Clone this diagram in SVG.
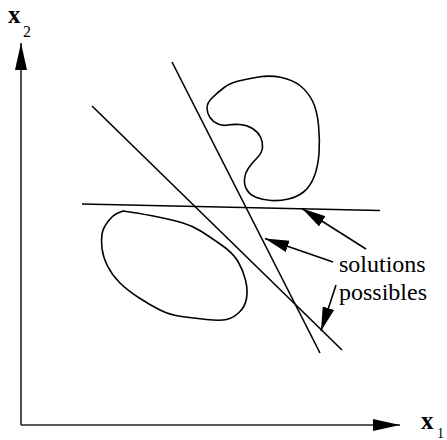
<svg xmlns="http://www.w3.org/2000/svg" width="447" height="440" viewBox="0 0 447 440">
<style>
.ln{stroke:#000;stroke-width:1.6;fill:none}
.ax{stroke:#222;stroke-width:1.6;fill:none}
.ar{stroke:#000;stroke-width:1.6;fill:none;marker-end:url(#ah)}
.blob{stroke:#000;stroke-width:1.6;fill:none;stroke-linejoin:round}
.lbl{font-family:"Liberation Serif","Times New Roman",serif;fill:#000}
.var{font-family:"Liberation Serif","Times New Roman",serif;fill:#000;font-weight:bold}
</style>
<defs>
<marker id="ah" markerUnits="userSpaceOnUse" markerWidth="26" markerHeight="14" refX="24" refY="6" orient="auto">
<path d="M0,0 L24,6 L0,12 Z" fill="#000"/>
</marker>
<marker id="axh" markerUnits="userSpaceOnUse" markerWidth="28" markerHeight="14" refX="27" refY="6" orient="auto">
<path d="M0,0 L27,6 L0,12 Z" fill="#000"/>
</marker>
</defs>
<g id="axes">
<line class="ax" x1="21" y1="425" x2="21" y2="43" marker-end="url(#axh)"/>
<line class="ax" x1="21" y1="425" x2="400" y2="425" marker-end="url(#axh)"/>
</g>
<g id="label-x2">
<text class="var" x="8" y="23" font-size="25">x</text>
<text class="lbl" x="23" y="37" font-size="16">2</text>
</g>
<g id="label-x1">
<text class="var" x="421" y="429" font-size="25">x</text>
<text class="lbl" x="437" y="438" font-size="14">1</text>
</g>
<g id="region-top">
<path class="blob" d="M212,98 Q207,103 207,108 Q207,113 210,117.5 Q213,122 218,124 Q223,126 228,125 Q233,124 240,124.5 Q247,125 252.5,128.5 Q258,132 260.5,137 Q263,142 262.5,147.5 Q262,153 257,158 Q252,163 248.5,168 Q245,173 244.5,179 Q244,185 247,190 Q250,195 256.5,197.5 Q263,200 271.5,200.5 Q280,201 288.5,199 Q297,197 303.5,192 Q310,187 314,177 Q318,167 319,153.5 Q320,140 318.5,125 Q317,110 312.5,101 Q308,92 300.5,86 Q293,80 281.5,77.5 Q270,75 258.5,77 Q247,79 238.5,81 Q230,83 223.5,88 Q217,93 212,98 Z"/>
</g>
<g id="region-bottom">
<path class="blob" d="M123,211 L133,212.5 Q143,214 158,217 Q173,220 183,223 Q193,226 201.5,231.5 Q210,237 221.5,245 Q233,253 238,261.5 Q243,270 245.5,280 Q248,290 246.5,298.5 Q245,307 239,312.5 Q233,318 226.5,319.5 Q220,321 206.5,319.5 Q193,318 181.5,316.5 Q170,315 160,310 Q150,305 138.5,297.5 Q127,290 119.5,282.5 Q112,275 107.5,266 Q103,257 102,248.5 Q101,240 102,234 Q103,228 108,221.5 Q113,215 118,213 Z"/>
</g>
<g id="lines">
<line class="ln" x1="172" y1="62" x2="320" y2="353"/>
<line class="ln" x1="92" y1="106" x2="342" y2="350"/>
<line class="ln" x1="82" y1="204" x2="380" y2="210.5"/>
</g>
<g id="label-solutions">
<text class="lbl" x="339" y="272" font-size="24">solutions</text>
<text class="lbl" x="339" y="300" font-size="24">possibles</text>
</g>
<g id="connectors">
<line class="ar" x1="366" y1="249" x2="302" y2="208.5"/>
<line class="ar" x1="333" y1="262" x2="265" y2="238.5"/>
<line class="ar" x1="336" y1="285" x2="321" y2="331"/>
</g>
</svg>
